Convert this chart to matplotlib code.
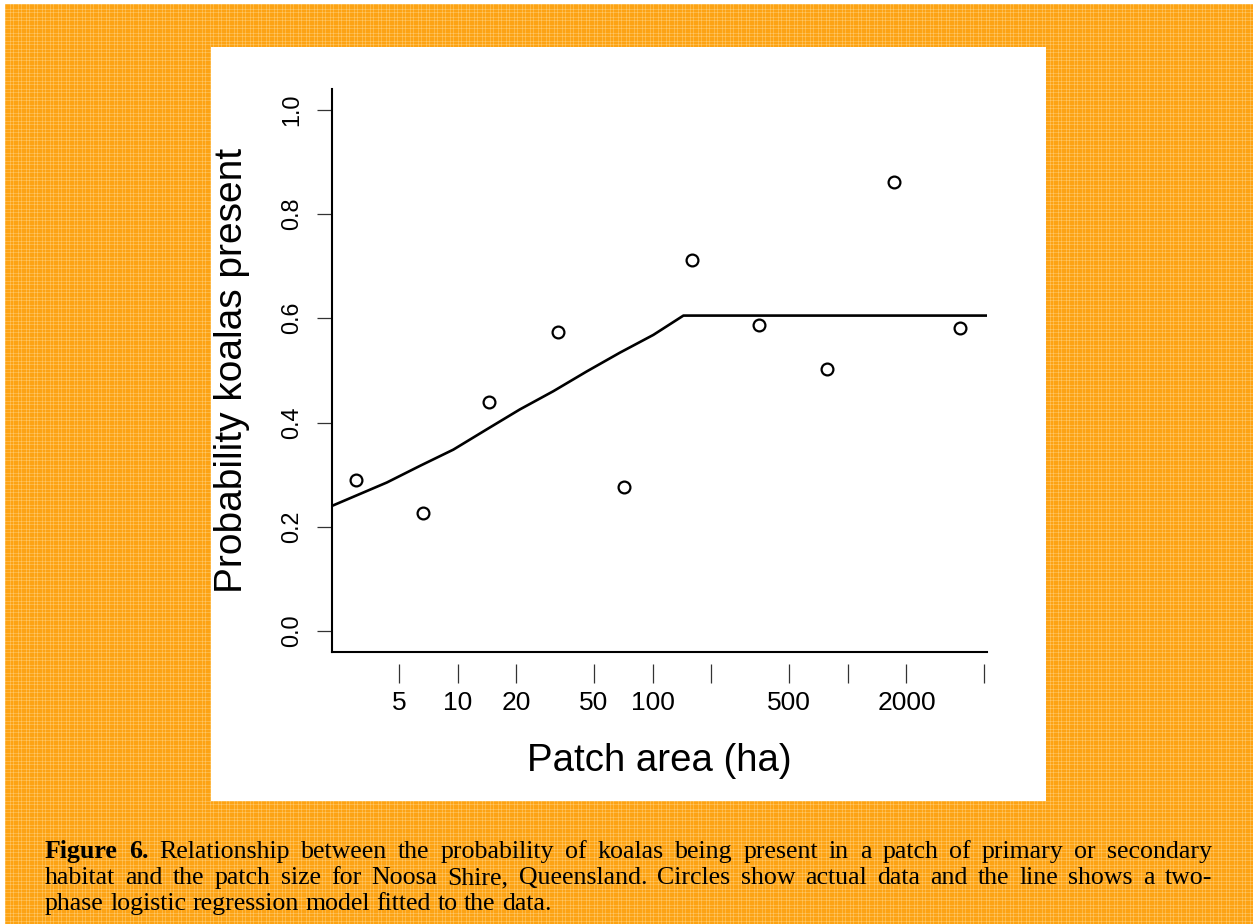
import numpy as np
import matplotlib
matplotlib.use("Agg")
import matplotlib.pyplot as plt
from matplotlib.patches import Rectangle

# ---------------- data ----------------
pt_x = [3.0, 6.6, 14.5, 32.7, 71.3, 159, 351, 783, 1726, 3776]
pt_y = [0.289, 0.226, 0.440, 0.574, 0.276, 0.712, 0.586, 0.503, 0.861, 0.582]

line_x = [2.26, 4.33, 6.41, 9.49, 14.1, 20.8, 30.9, 45.9, 67.9, 100.7, 143.6, 5180]
line_y = [0.240, 0.285, 0.317, 0.348, 0.387, 0.425, 0.460, 0.498, 0.534, 0.568, 0.605, 0.605]

xticks = [5, 10, 20, 50, 100, 200, 500, 1000, 2000, 5000]
xticklabels = ["5", "10", "20", "50", "100", "", "500", "", "2000", ""]
yticks = [0.0, 0.2, 0.4, 0.6, 0.8, 1.0]
yticklabels = ["0.0", "0.2", "0.4", "0.6", "0.8", "1.0"]

xlabel = "Patch area (ha)"
ylabel = "Probability koalas present"

caption_lines = [
    [("Figure", "bold"), ("6.", "bold"), ("Relationship", "normal"), ("between", "normal"),
     ("the", "normal"), ("probability", "normal"), ("of", "normal"), ("koalas", "normal"),
     ("being", "normal"), ("present", "normal"), ("in", "normal"), ("a", "normal"),
     ("patch", "normal"), ("of", "normal"), ("primary", "normal"), ("or", "normal"),
     ("secondary", "normal")],
    [(w, "normal") for w in "habitat and the patch size for Noosa Shire, Queensland. Circles show actual data and the line shows a two-".split()],
    [(w, "normal") for w in "phase logistic regression model fitted to the data.".split()],
]

# ---------------- figure ----------------
W, H = 1253, 924
DPI = 100
fig = plt.figure(figsize=(W / DPI, H / DPI), dpi=DPI)

# background plaid texture
yy, xx = np.mgrid[0:H, 0:W]
base = np.array([253, 163, 20], dtype=float) / 255.0
light = np.array([255, 208, 125], dtype=float) / 255.0
per = 8
rows = np.isin(yy % per, [1, 4])
cols = np.isin(xx % per, [2, 5])
mix = 0.45 * rows + 0.45 * cols
mix = np.clip(mix, 0, 0.8)[..., None]
img = base * (1 - mix) + light * mix
img[:4, :, :] = 1.0
img[:, :5, :] = 1.0
bg = fig.add_axes([0, 0, 1, 1])
bg.imshow(img, aspect="auto", interpolation="nearest", extent=[0, W, H, 0])
bg.set_xlim(0, W)
bg.set_ylim(H, 0)
bg.axis("off")

# white panel
bg.add_patch(Rectangle((211, 47), 1046 - 211, 801 - 47, facecolor="white", edgecolor="none"))

# main axes (pixel box)
L, R, T, B = 332, 987, 88.7, 652
ax = fig.add_axes([L / W, 1 - B / H, (R - L) / W, (B - T) / H])
ax.set_facecolor("none")
ax.set_xscale("log")
ax.set_xlim(2.265, 5176)
ax.set_ylim(-0.04, 1.04)

ax.plot(line_x, line_y, color="black", lw=1.9, solid_joinstyle="round")
ax.plot(pt_x, pt_y, linestyle="none", marker="o", ms=8.5, mfc="white", mec="black", mew=1.6)

for s in ["top", "right"]:
    ax.spines[s].set_visible(False)
ax.spines["left"].set_linewidth(1.5)
ax.spines["bottom"].set_position(("outward", 8.6))
ax.spines["bottom"].set_visible(False)
# bottom box line
ax.plot([0, 1], [0, 0], transform=ax.transAxes, color="black", lw=1.5, clip_on=False,
        solid_capstyle="projecting")

ax.set_xticks(xticks)
ax.set_xticklabels(xticklabels)
ax.xaxis.set_minor_locator(matplotlib.ticker.NullLocator())
ax.set_yticks(yticks)
ax.set_yticklabels(yticklabels, rotation=90, va="center")

ax.tick_params(axis="x", direction="out", length=13.7, width=0.9, color="#333333",
               labelsize=19, pad=6, labelcolor="black")
ax.tick_params(axis="y", direction="out", length=10.8, width=0.9, color="#333333",
               labelsize=16.8, pad=10, labelcolor="black")
for lab in ax.get_xticklabels() + ax.get_yticklabels():
    lab.set_family("Liberation Sans")

ax.set_xlabel(xlabel, fontsize=27.6, family="Liberation Sans", labelpad=20)
ax.set_ylabel(ylabel, fontsize=28, family="Liberation Sans", labelpad=22)

# caption (justified)
fig.canvas.draw()
renderer = fig.canvas.get_renderer()
cap_left, cap_right = 45, 1212
baselines = [858, 884, 910]
fs = 18.6
sp = bg.text(0, 0, "a a", fontsize=fs, family="Liberation Serif")
sp2 = bg.text(0, 0, "aa", fontsize=fs, family="Liberation Serif")
natural_gap = sp.get_window_extent(renderer).width - sp2.get_window_extent(renderer).width
sp.remove(); sp2.remove()
for i, words in enumerate(caption_lines):
    texts = []
    for w, wt in words:
        t = bg.text(0, baselines[i], w, fontsize=fs, family="Liberation Serif", fontweight=wt,
                    va="baseline", ha="left", color="black")
        texts.append(t)
    widths = [t.get_window_extent(renderer).width for t in texts]
    if i < 2:
        gap = (cap_right - cap_left - sum(widths)) / (len(words) - 1)
    else:
        gap = natural_gap
    x = cap_left
    for t, wdt in zip(texts, widths):
        t.set_x(x)
        x += wdt + gap

fig.savefig("out.png", dpi=DPI)
